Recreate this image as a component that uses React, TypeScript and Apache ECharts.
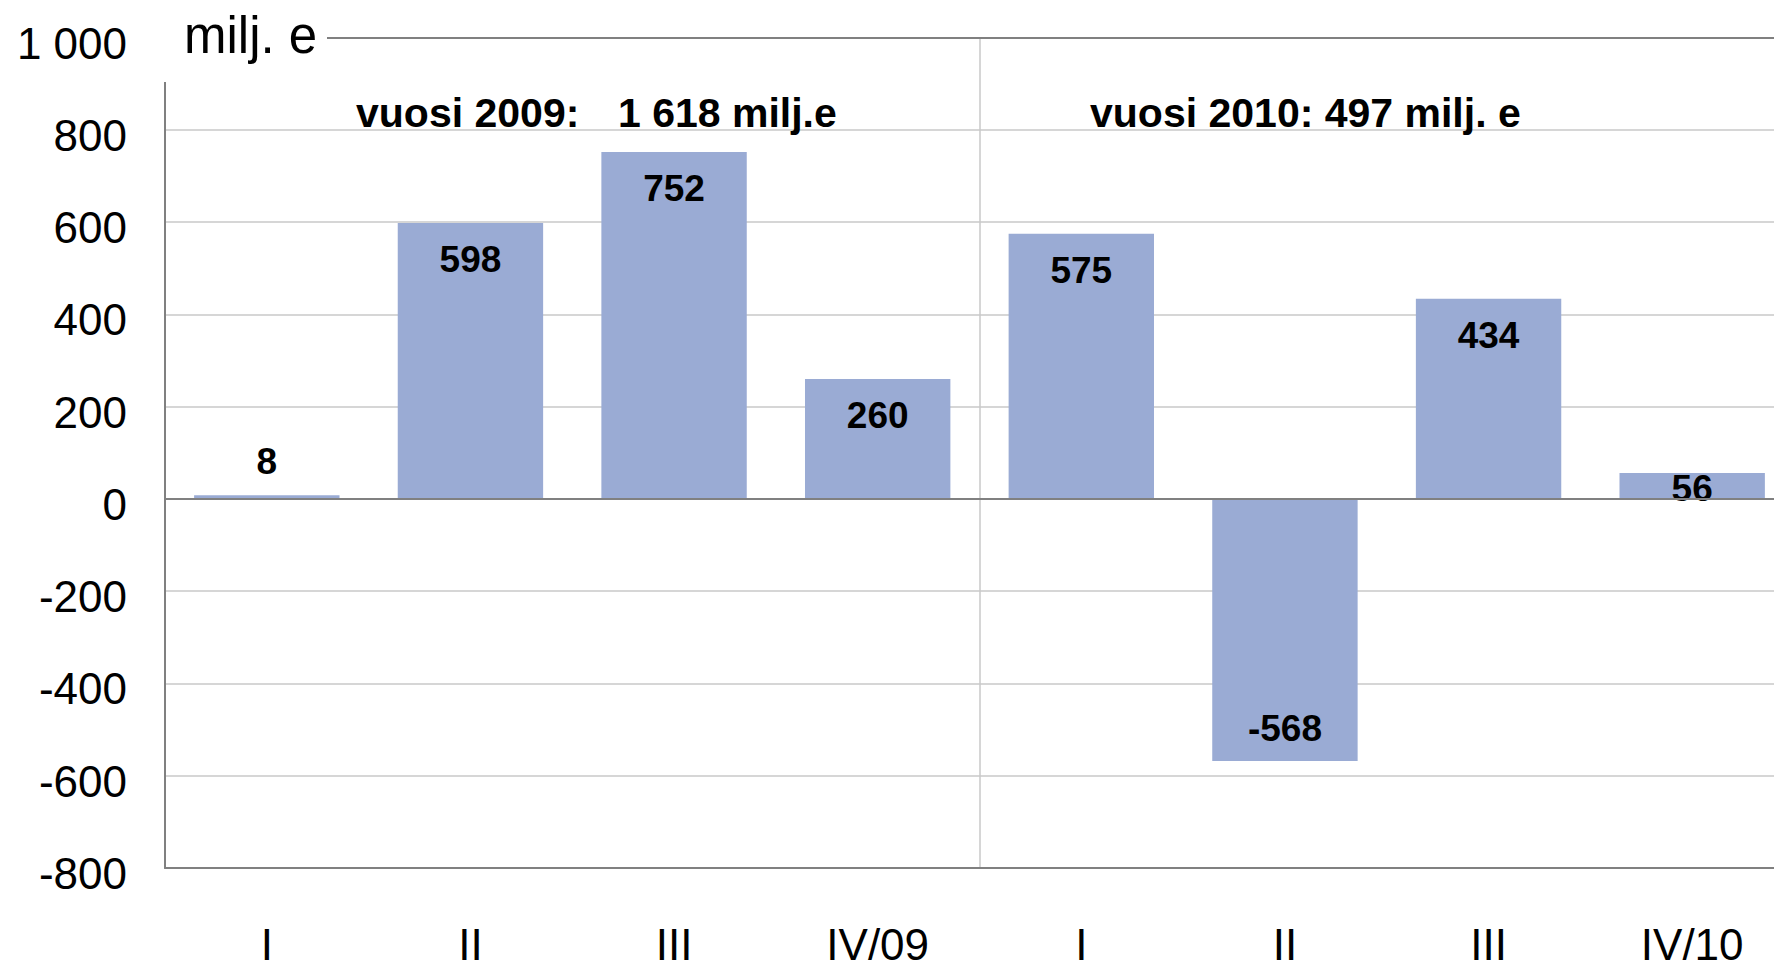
import React, { useEffect, useRef } from 'react';
import * as echarts from 'echarts';

const categories = ['I', 'II', 'III', 'IV/09', 'I', 'II', 'III', 'IV/10'];
const values = [8, 598, 752, 260, 575, -568, 434, 56];
const yTicks = [-800, -600, -400, -200, 0, 200, 400, 600, 800, 1000];
const yTickLabels = ['-800', '-600', '-400', '-200', '0', '200', '400', '600', '800', '1 000'];
const unitLabel = 'milj. e';
const note2009a = 'vuosi 2009:';
const note2009b = '1 618 milj.e';
const note2010 = 'vuosi 2010: 497 milj. e';

const FONT = "'Liberation Sans', Arial, Helvetica, sans-serif";
const BAR = '#9aabd4';
const DARK = '#808080';
const LIGHT = '#c8c8c8';

export default function App() {
  const ref = useRef<HTMLDivElement>(null);

  useEffect(() => {
    document.body.style.margin = '0';
    document.body.style.overflow = 'hidden';
    if (!ref.current) return;
    const chart = echarts.init(ref.current, undefined, { renderer: 'svg' });

    const data = values.map((v) => {
      let label: any;
      if (v < 0) label = { position: 'insideBottom', distance: 14 };
      else if (v < 20) label = { position: 'top', distance: 15 };
      else if (v < 100) label = { position: 'inside', offset: [0, 2] };
      else label = { position: 'insideTop', distance: 18 };
      return { value: v, label };
    });

    chart.setOption({
      animation: false,
      backgroundColor: '#ffffff',
      textStyle: { fontFamily: FONT },
      grid: { left: 165, right: 0, top: 37.6, bottom: 96, containLabel: false },
      xAxis: {
        type: 'category',
        data: categories,
        boundaryGap: true,
        axisLine: { show: true, onZero: false, lineStyle: { color: DARK, width: 2 } },
        axisTick: { show: false },
        axisLabel: {
          interval: 0,
          margin: 59,
          fontSize: 44,
          lineHeight: 34,
          color: '#000',
          fontFamily: FONT,
        },
        splitLine: {
          show: true,
          interval: (i: number) => i === 0 || i === 4,
          lineStyle: { color: LIGHT, width: 1.5 },
        },
      },
      yAxis: {
        type: 'value',
        min: -800,
        max: 1000,
        interval: 200,
        axisLine: { show: true, lineStyle: { color: DARK, width: 2 } },
        axisTick: { show: false },
        axisLabel: {
          margin: 38,
          fontSize: 44,
          color: '#000',
          fontFamily: FONT,
          verticalAlign: 'top',
          lineHeight: 11,
          formatter: (v: number) => {
            const i = yTicks.indexOf(v);
            return i >= 0 ? yTickLabels[i] : String(v);
          },
        },
        splitLine: { show: true, lineStyle: { color: LIGHT, width: 1.5 } },
      },
      series: [
        {
          type: 'bar',
          data,
          barCategoryGap: '28.6%',
          itemStyle: { color: BAR },
          label: {
            show: true,
            color: '#000',
            fontSize: 37,
            fontWeight: 'bold',
            fontFamily: FONT,
          },
          markLine: {
            silent: true,
            symbol: ['none', 'none'],
            label: { show: false },
            lineStyle: { color: DARK, width: 2, type: 'solid' },
            data: [{ yAxis: 0 }, { yAxis: 1000 }],
            z: 5,
          },
        },
      ],
      graphic: [
        {
          type: 'rect',
          z: 100,
          shape: { x: 130, y: 0, width: 197, height: 82 },
          style: { fill: '#ffffff' },
        },
        {
          type: 'text',
          z: 101,
          x: 184,
          y: 35.6,
          style: {
            text: unitLabel,
            font: `normal 51px ${FONT}`,
            fill: '#000',
            verticalAlign: 'middle',
            align: 'left',
          },
        },
        {
          type: 'text',
          z: 101,
          x: 356,
          y: 113,
          style: {
            text: note2009a,
            font: `bold 41px ${FONT}`,
            fill: '#000',
            verticalAlign: 'middle',
            align: 'left',
          },
        },
        {
          type: 'text',
          z: 101,
          x: 618,
          y: 113,
          style: {
            text: note2009b,
            font: `bold 41px ${FONT}`,
            fill: '#000',
            verticalAlign: 'middle',
            align: 'left',
          },
        },
        {
          type: 'text',
          z: 101,
          x: 1090,
          y: 113,
          style: {
            text: note2010,
            font: `bold 41px ${FONT}`,
            fill: '#000',
            verticalAlign: 'middle',
            align: 'left',
          },
        },
      ],
    });

    return () => {
      chart.dispose();
    };
  }, []);

  return (
    <div style={{ position: 'absolute', left: 0, top: 0, width: 1774, height: 966, overflow: 'hidden', background: '#fff' }}>
      <div ref={ref} style={{ position: 'absolute', left: 0, top: 0, width: 1794, height: 966 }} />
    </div>
  );
}
